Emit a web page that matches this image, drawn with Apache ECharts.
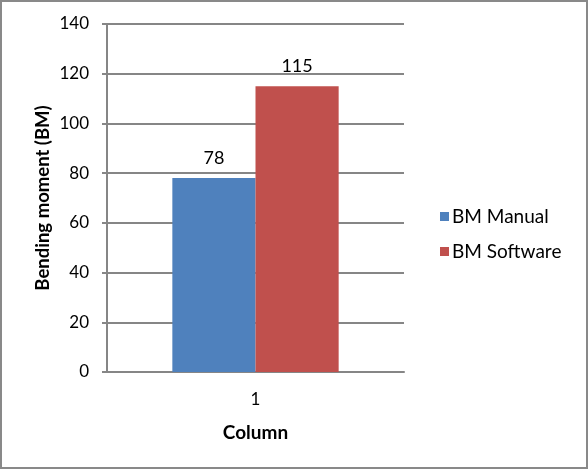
<!DOCTYPE html>
<html><head><meta charset="utf-8">
<script src="https://cdn.jsdelivr.net/npm/echarts@6/dist/echarts.min.js"></script>
<style>html,body{margin:0;padding:0;background:#fff}#c{width:588px;height:469px;box-sizing:border-box;border:2px solid #898989}</style>
</head><body><div id="c"></div>
<script>
const categories = ['1'];
const seriesNames = ['BM Manual', 'BM Software'];
const bmManual = [78];
const bmSoftware = [115];
const yTicks = {min: 0, max: 140, interval: 20};

const chart = echarts.init(document.getElementById('c'), null, {renderer: 'canvas'});
const font = 'Lato, "Noto Sans", sans-serif';
chart.setOption({
  animation: false,
  textStyle: {fontFamily: font},
  grid: {left: 105, right: 182, top: 22, bottom: 95, containLabel: false},
  legend: {
    orient: 'vertical', left: 433, top: 200, itemGap: 16,
    itemWidth: 9, itemHeight: 9, icon: 'rect',
    textStyle: {fontSize: 19, color: '#000', fontFamily: font, padding: [0,0,0,-2]},
    data: seriesNames
  },
  xAxis: {
    type: 'category', data: categories,
    name: 'Column', nameLocation: 'middle', nameGap: 51, nameMoveOverlap: false,
    nameTextStyle: {fontSize: 19, fontWeight: 'bold', color: '#000', fontFamily: font},
    axisLine: {lineStyle: {color: '#868686', width: 2}},
    axisTick: {show: false},
    axisLabel: {fontSize: 17, color: '#000', margin: 19, fontFamily: font}
  },
  yAxis: {
    type: 'value', min: yTicks.min, max: yTicks.max, interval: yTicks.interval,
    name: 'Bending moment (BM)', nameLocation: 'middle', nameGap: 54, nameRotate: 90, nameMoveOverlap: false,
    nameTextStyle: {fontSize: 18.5, fontWeight: 'bold', color: '#000', fontFamily: font},
    axisLine: {show: true, lineStyle: {color: '#868686', width: 2}},
    axisTick: {show: true, length: 5, lineStyle: {color: '#868686', width: 2}},
    splitLine: {lineStyle: {color: '#868686', width: 2}},
    axisLabel: {fontSize: 17, color: '#000', margin: 18, fontFamily: font}
  },
  series: [
    {name: seriesNames[0], type: 'bar', data: bmManual, barGap: '0%', barCategoryGap: '44%',
     itemStyle: {color: '#4F81BD'},
     label: {show: true, position: 'top', fontSize: 18, color: '#000', distance: 11, fontFamily: font}},
    {name: seriesNames[1], type: 'bar', data: bmSoftware,
     itemStyle: {color: '#C0504D'},
     label: {show: true, position: 'top', fontSize: 18, color: '#000', distance: 11, fontFamily: font}}
  ]
});
</script></body></html>
